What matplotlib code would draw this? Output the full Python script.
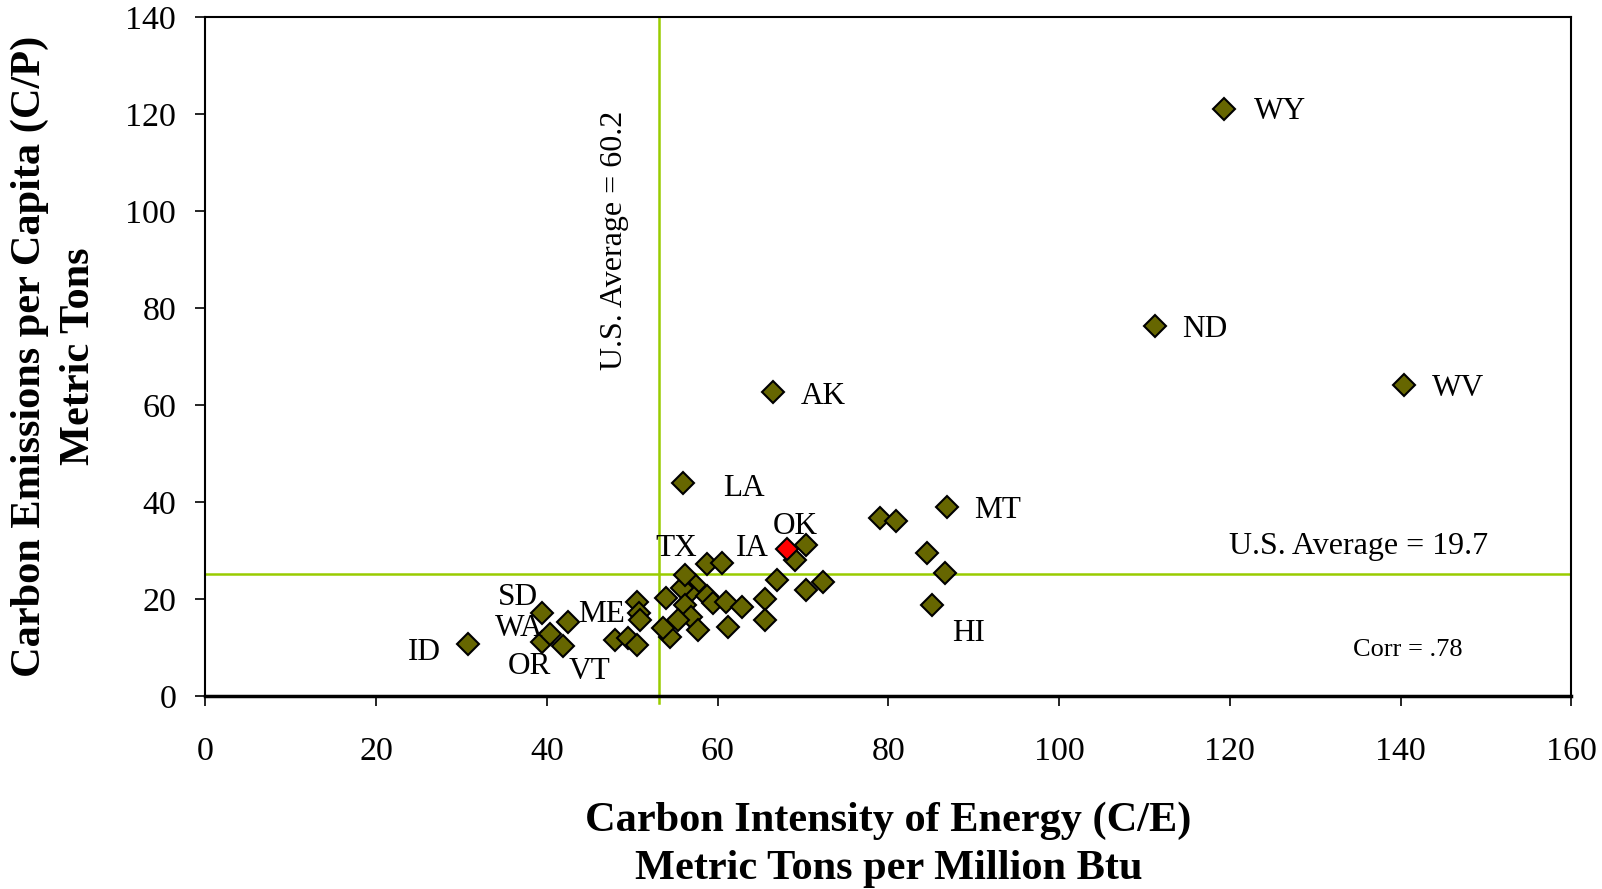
import matplotlib
matplotlib.use("Agg")
import matplotlib.pyplot as plt

plt.rcParams['font.family'] = ['Liberation Serif', 'DejaVu Serif']

# Carbon intensity of energy (C/E) and carbon emissions per capita (C/P)
states = ["WY", "ND", "WV", "AK", "LA", "MT", "HI", "ID", "SD", "WA", "OR", "VT", "ME", "TX", "IA"]
state_ce = [119.3, 111.2, 140.4, 66.5, 56.0, 86.9, 85.1, 30.8, 39.4, 39.45, 40.35, 41.9, 42.5, 56.2, 60.5]
state_cp = [121.2, 76.3, 64.1, 62.8, 43.9, 39.0, 18.8, 10.6, 17.1, 11.2, 12.7, 10.3, 15.2, 24.9, 27.5]

other_ce = [79.0, 80.9, 84.5, 86.6, 58.7, 70.4, 69.1, 66.9, 70.3, 72.3, 65.5, 65.5,
            48.0, 49.5, 50.5, 50.5, 50.8, 50.9, 54.0, 54.4, 53.6, 57.4, 56.7, 55.8,
            56.2, 58.7, 59.4, 61.0, 62.8, 56.9, 55.4, 57.7, 61.2]
other_cp = [36.6, 36.1, 29.5, 25.4, 27.3, 31.1, 28.0, 23.9, 21.8, 23.5, 19.9, 15.6,
            11.5, 11.9, 10.5, 19.4, 17.0, 15.6, 20.1, 12.2, 13.9, 22.9, 21.2, 22.2,
            18.7, 20.5, 19.1, 19.4, 18.4, 16.3, 15.6, 13.6, 14.3]

ok_ce = [68.1]
ok_cp = [30.3]

label_pos = {
    "WY": (122.8, 120.6), "ND": (114.4, 75.5), "WV": (143.6, 63.5), "AK": (69.7, 61.8),
    "LA": (60.7, 42.8), "MT": (90.1, 38.2), "HI": (87.5, 12.9), "ID": (23.7, 8.9),
    "SD": (34.3, 20.3), "WA": (33.9, 13.9), "OR": (35.4, 6.1), "VT": (42.6, 5.1),
    "ME": (43.7, 16.7), "TX": (52.7, 30.4), "IA": (62.1, 30.4), "OK": (66.5, 35.0),
}

avg_ce_line = 53.1
avg_cp_line = 25.1

fig = plt.figure(figsize=(16.02, 8.89), dpi=100)
ax = fig.add_axes([0.1282, 0.2173, 0.8527, 0.7631])

ax.axvline(avg_ce_line, color='#99cc00', lw=1.8, zorder=1, clip_on=False, ymin=-0.01)
ax.axhline(avg_cp_line, color='#99cc00', lw=1.8, zorder=1)

mk = dict(marker='D', markersize=11.5, markeredgecolor='black', markeredgewidth=1.5, linestyle='none')
ax.plot(other_ce, other_cp, markerfacecolor='#666600', zorder=3, **mk)
ax.plot(state_ce, state_cp, markerfacecolor='#666600', zorder=3, **mk)
ax.plot(ok_ce, ok_cp, markerfacecolor='#ff0000', zorder=4, **mk)

for name, (tx, ty) in label_pos.items():
    ax.text(tx, ty, name, fontsize=22.5, ha='left', va='center', zorder=5)

ax.text(119.9, 30.8, "U.S. Average = 19.7", fontsize=23, ha='left', va='center')
ax.text(134.4, 9.5, "Corr = .78", fontsize=19, ha='left', va='center')
ax.text(47.9, 94.0, "U.S. Average = 60.2", fontsize=23, ha='center', va='center', rotation=90)

ax.set_xlim(0, 160)
ax.set_ylim(0, 140)
ax.set_xticks(range(0, 161, 20))
ax.set_yticks(range(0, 141, 20))
ax.tick_params(axis='x', direction='out', length=7, width=1.2, pad=22, labelsize=24.5)
ax.tick_params(axis='y', direction='out', length=7, width=1.2, pad=14, labelsize=24.5)
for s in ax.spines.values():
    s.set_linewidth(1.5)
ax.spines['bottom'].set_linewidth(2.5)

ax.set_xlabel("Carbon Intensity of Energy (C/E)\nMetric Tons per Million Btu",
              fontsize=30.5, fontweight='bold', labelpad=25, linespacing=1.34)
ax.set_ylabel("Carbon Emissions per Capita (C/P)\nMetric Tons",
              fontsize=30.5, fontweight='bold', labelpad=20, linespacing=1.36)

fig.savefig("out.png", dpi=100)
